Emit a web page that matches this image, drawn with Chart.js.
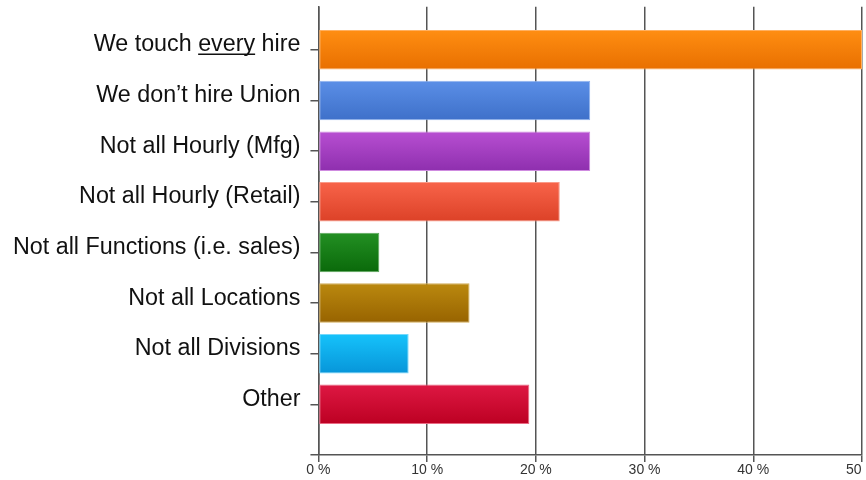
<!DOCTYPE html>
<html>
<head>
<meta charset="utf-8">
<title>Hiring coverage</title>
<script src="https://cdn.jsdelivr.net/npm/chart.js@4.4.1/dist/chart.umd.min.js"></script>
<style>
  html, body { margin: 0; padding: 0; overflow: hidden; background: #fff; }
  #wrap { width: 882px; height: 489px; margin-top: -9px; }
</style>
</head>
<body>
<div id="wrap"><canvas id="hirechart" width="882" height="489"></canvas></div>
<script>
// answers, listed top to bottom
const categories = [
    "We touch every hire",
    "We don\u2019t hire Union",
    "Not all Hourly (Mfg)",
    "Not all Hourly (Retail)",
    "Not all Functions (i.e. sales)",
    "Not all Locations",
    "Not all Divisions",
    "Other"
];
const percents = [50, 25, 25, 22.2, 5.6, 13.9, 8.3, 19.4];
const xTicks = [0, 10, 20, 30, 40, 50];

// each bar is shaded light at the top to dark at the bottom
const topColors = ["#ff8e12", "#5b8fe7", "#b84fd2", "#f8644a", "#239023", "#bb890f", "#16c3fb", "#de1843"];
const bottomColors = ["#e86f00", "#3e70c9", "#8e2fae", "#dc4127", "#0a690a", "#976300", "#0795d9", "#bc0022"];
const edgeColors = ["#ffb060", "#8fb2ee", "#cf8be0", "#fa9a88", "#5aa85a", "#d2ad5a", "#74d8fb", "#ea6a84"];

// lineHeight kept small so the axis does not reserve much room above the first label
const labelFont = { family: '"Liberation Sans", Arial, sans-serif', size: 23.3, lineHeight: 0.5 };
const yTickLength = 8;
const yTickPadding = 10;
const yLabelOffset = -5;

Chart.defaults.font.family = '"Liberation Sans", Arial, sans-serif';

const barGradient = (context) => {
    const chart = context.chart;
    const yScale = chart.scales.y;
    if (!yScale || !chart.chartArea) return topColors[context.dataIndex];
    const mid = yScale.getPixelForValue(context.dataIndex);
    const g = chart.ctx.createLinearGradient(0, mid - 20, 0, mid + 20);
    g.addColorStop(0, topColors[context.dataIndex]);
    g.addColorStop(1, bottomColors[context.dataIndex]);
    return g;
};

// underline the word "every" in the first label
const underlineWord = {
    id: 'underlineWord',
    afterDraw(chart) {
        const yScale = chart.scales.y;
        const ctx = chart.ctx;
        const label = categories[0];
        const word = 'every';
        const start = label.indexOf(word);
        ctx.save();
        ctx.font = labelFont.size + 'px ' + labelFont.family;
        const right = yScale.right - yTickLength - yTickPadding;
        const x0 = right - ctx.measureText(label).width + ctx.measureText(label.slice(0, start)).width;
        const x1 = x0 + ctx.measureText(word).width;
        const y = yScale.getPixelForValue(0) + yLabelOffset + 9.5;
        ctx.strokeStyle = '#111';
        ctx.lineWidth = 1.5;
        ctx.beginPath();
        ctx.moveTo(x0, y);
        ctx.lineTo(x1, y);
        ctx.stroke();
        ctx.restore();
    }
};

new Chart(document.getElementById('hirechart'), {
    type: 'bar',
    data: {
        datasets: [{
            data: percents.map((v, i) => ({ x: v, y: i })),
            backgroundColor: barGradient,
            borderColor: edgeColors,
            borderWidth: 1,
            borderSkipped: false,
            barPercentage: 1,
            categoryPercentage: 0.78
        }]
    },
    options: {
        indexAxis: 'y',
        responsive: false,
        animation: false,
        layout: { padding: { left: 3, top: 7, right: 20, bottom: 2 } },
        scales: {
            x: {
                type: 'linear',
                min: 0,
                max: 50,
                afterBuildTicks: (scale) => { scale.ticks = xTicks.map(v => ({ value: v })); },
                ticks: {
                    callback: (v) => v + ' %',
                    color: '#333',
                    font: { size: 14, lineHeight: 1 },
                    padding: 1,
                    maxRotation: 0
                },
                grid: { color: '#555', lineWidth: 1.5, tickLength: 7 },
                border: { color: '#555', width: 1.5 }
            },
            y: {
                type: 'linear',
                reverse: true,
                offset: false,
                min: -0.85,
                max: 8,
                // one tick per answer, plus a closing tick at the bottom edge
                afterBuildTicks: (scale) => {
                    scale.ticks = categories.map((c, i) => ({ value: i })).concat([{ value: 8 }]);
                },
                ticks: {
                    callback: (v) => categories[v] ?? '',
                    color: '#111',
                    font: labelFont,
                    padding: yTickPadding,
                    labelOffset: yLabelOffset,
                    autoSkip: false
                },
                grid: { offset: false, drawOnChartArea: false, tickLength: yTickLength, color: '#555', lineWidth: 1.5 },
                border: { color: '#555', width: 1.5 }
            }
        },
        plugins: {
            legend: { display: false },
            tooltip: { enabled: false }
        }
    },
    plugins: [underlineWord]
});
</script>
</body>
</html>
